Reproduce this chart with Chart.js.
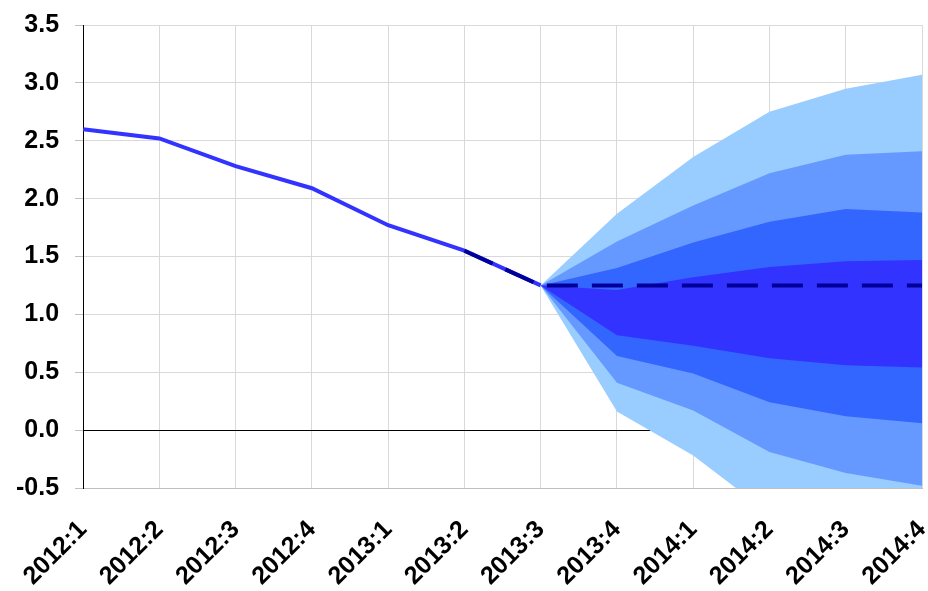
<!DOCTYPE html>
<html>
<head>
<meta charset="utf-8">
<script src="https://cdn.jsdelivr.net/npm/chart.js@4"></script>
<style>
  html, body { margin: 0; padding: 0; background: #fff; }
  #wrap { width: 928px; height: 591px; }
</style>
</head>
<body>
<div id="wrap"><canvas id="myChart" width="928" height="591"></canvas></div>
<script>
// 분기 라벨
const quarters = ['2012:1', '2012:2', '2012:3', '2012:4', '2013:1', '2013:2', '2013:3',
                  '2013:4', '2014:1', '2014:2', '2014:3', '2014:4'];

// 실적치
const history = [2.60, 2.52, 2.28, 2.09, 1.77, 1.55, 1.25, null, null, null, null, null];
// 중심 전망 (점선)
const baseline = [null, null, null, null, null, 1.55, 1.25, 1.25, 1.25, 1.25, 1.25, 1.25];

// 팬 차트 구간 (상단 / 하단)
const darkHi  = [null, null, null, null, null, null, 1.25, 1.21, 1.32, 1.41, 1.46, 1.47];
const darkLo  = [null, null, null, null, null, null, 1.25, 0.82, 0.73, 0.62, 0.56, 0.54];
const blueHi  = [null, null, null, null, null, null, 1.25, 1.40, 1.62, 1.80, 1.91, 1.88];
const blueLo  = [null, null, null, null, null, null, 1.25, 0.64, 0.49, 0.24, 0.12, 0.06];
const midHi   = [null, null, null, null, null, null, 1.25, 1.63, 1.94, 2.22, 2.38, 2.41];
const midLo   = [null, null, null, null, null, null, 1.25, 0.41, 0.17, -0.19, -0.37, -0.48];
const lightHi = [null, null, null, null, null, null, 1.25, 1.87, 2.36, 2.75, 2.95, 3.07];
const lightLo = [null, null, null, null, null, null, 1.25, 0.16, -0.22, -0.72, -0.90, -1.00];

const yTicks = [-0.5, 0, 0.5, 1, 1.5, 2, 2.5, 3, 3.5];

const labelFont = { family: 'Liberation Sans, Arial', size: 25, weight: 'bold' };

function band(data, color, fillTo) {
    return {
        data: data,
        borderWidth: 0,
        borderColor: color,
        backgroundColor: color,
        pointRadius: 0,
        tension: 0,
        fill: fillTo === undefined ? false : { target: fillTo }
    };
}

const ctx = document.getElementById('myChart').getContext('2d');
new Chart(ctx, {
    type: 'line',
    data: {
        labels: quarters,
        datasets: [
            {
                data: baseline,
                borderColor: '#000099',
                borderWidth: 4,
                borderDash: [31, 14],
                pointRadius: 0,
                fill: false
            },
            {
                data: history,
                borderColor: '#3333FF',
                borderWidth: 4,
                pointRadius: 0,
                fill: false
            },
            band(darkHi, '#3333FF', 3),
            band(darkLo, '#3333FF'),
            band(blueHi, '#3366FF', 5),
            band(blueLo, '#3366FF'),
            band(midHi, '#6699FF', 7),
            band(midLo, '#6699FF'),
            band(lightHi, '#99CCFF', 9),
            band(lightLo, '#99CCFF')
        ]
    },
    options: {
        responsive: false,
        animation: false,
        layout: { padding: { left: 0, right: 6, top: 0, bottom: 0 } },
        plugins: {
            legend: { display: false },
            tooltip: { enabled: false }
        },
        scales: {
            x: {
                offset: false,
                // 회전된 라벨 때문에 생기는 좌우 여백 제거, 축 높이 고정
                afterFit: scale => {
                    scale.paddingLeft = 0;
                    scale.paddingRight = 0;
                    scale.height = 103;
                },
                grid: {
                    color: '#d9d9d9',
                    drawTicks: false
                },
                border: { color: '#bfbfbf' },
                ticks: {
                    minRotation: 45,
                    maxRotation: 45,
                    padding: 27,
                    color: '#000',
                    font: labelFont
                }
            },
            y: {
                min: -0.5,
                max: 3.5,
                afterBuildTicks: axis => {
                    axis.ticks = yTicks.map(v => ({ value: v }));
                },
                afterFit: scale => {
                    scale.paddingTop = 25;
                    scale.paddingBottom = 0;
                },
                grid: {
                    color: c => (c.tick && c.tick.value === 0) ? '#000000' : '#d9d9d9',
                    tickColor: '#bfbfbf',
                    tickLength: 8
                },
                border: { color: '#000000', width: 1 },
                ticks: {
                    padding: 16,
                    color: '#000',
                    font: labelFont,
                    callback: v => v.toFixed(1)
                }
            }
        }
    }
});
</script>
</body>
</html>
